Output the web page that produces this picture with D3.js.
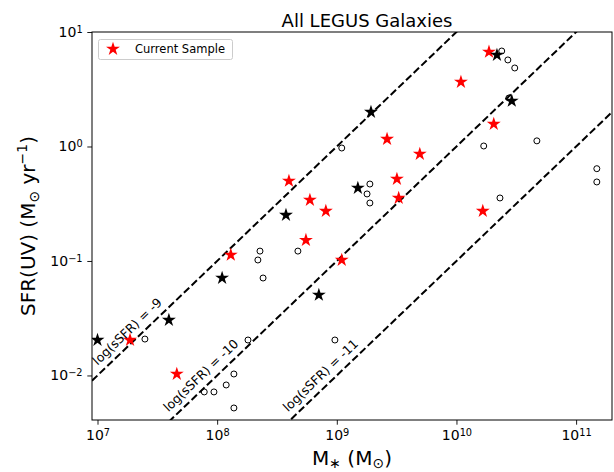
<!DOCTYPE html>
<html>
<head>
<meta charset="utf-8">
<script src="https://cdn.jsdelivr.net/npm/d3@7"></script>
<style>
body{margin:0;background:#fff}
text{font-family:"DejaVu Sans",sans-serif;fill:#000}
</style>
</head>
<body>
<svg id="chart" width="614" height="472"></svg>
<script>
// current sample (red stars)
var redMass = [1.87e10,1.09e10,2.05e10,2.63e9,4.94e9,3.18e9,3.98e8,3.29e9,5.96e8,8.1e8,1.66e10,5.52e8,1.30e8,1.10e9,1.87e7,4.6e7];
var redSfr  = [6.7,3.66,1.57,1.16,0.86,0.52,0.50,0.355,0.341,0.273,0.273,0.152,0.113,0.102,0.0204,0.0103];
// other legus galaxies (black stars)
var blackMass = [1.0e7,3.95e7,1.10e8,3.76e8,7.08e8,1.50e9,1.93e9,2.18e10,2.90e10];
var blackSfr  = [0.0204,0.0305,0.071,0.252,0.0505,0.434,2.0,6.3,2.5];
// open circles
var circleMass = [2.39e10,2.69e10,3.07e10,2.74e10,1.10e9,1.69e10,4.70e10,1.49e11,1.49e11,1.89e9,1.79e9,1.89e9,2.31e10,4.73e8,2.28e8,2.19e8,2.42e8,2.49e7,1.81e8,9.64e8,1.38e8,1.19e8,9.4e7,7.8e7,1.38e8];
var circleSfr  = [6.82,5.7,4.85,2.65,0.97,1.01,1.12,0.64,0.49,0.47,0.385,0.321,0.355,0.122,0.122,0.102,0.071,0.0208,0.0204,0.0204,0.0103,0.00826,0.00718,0.00718,0.0052];
// constant sSFR lines
var ssfrValues = [-9,-10,-11];
var ssfrLabelMass = [1.1e7,4.3e7,4.3e8];
var xTicks = [1e7,1e8,1e9,1e10,1e11];
var yTicks = [1e-2,1e-1,1e0,1e1];

var toPoints = function(mass,sfr){
    return mass.map(function(m,i){ return {m:m, s:sfr[i]} })
}

var svg = d3.select("#chart");
var box = {left:92,right:612,top:32,bottom:420};

var xScale = d3.scaleLog()
    .domain([Math.pow(10,6.954),Math.pow(10,11.30)])
    .range([box.left,box.right]);
var yScale = d3.scaleLog()
    .domain([Math.pow(10,-2.389),10])
    .range([box.bottom,box.top]);

var minorTicks = function(scale){
    var d = scale.domain(), out = [];
    for(var e=Math.floor(Math.log10(d[0])); e<=Math.ceil(Math.log10(d[1])); e++){
        for(var k=2;k<10;k++){
            var v = k*Math.pow(10,e);
            if(v>=d[0] && v<=d[1]) out.push(v);
        }
    }
    return out;
}

var powerLabel = function(sel){
    sel.each(function(d){
        var t = d3.select(this).text("");
        var e = Math.round(Math.log10(d));
        t.append("tspan").text("10");
        t.append("tspan").attr("dy","-0.45em").style("font-size","9.8px")
            .text(e<0 ? "\u2212"+(-e) : e);
    })
}

svg.append("clipPath").attr("id","clip")
    .append("rect")
    .attr("x",box.left).attr("y",box.top)
    .attr("width",box.right-box.left).attr("height",box.bottom-box.top);

// x axis
var gx = svg.append("g").attr("transform","translate(0,"+box.bottom+")");
gx.call(d3.axisBottom(xScale).tickValues(minorTicks(xScale)).tickSize(2.7).tickFormat(""));
gx.call(d3.axisBottom(xScale).tickValues(xTicks).tickSize(4.7).tickPadding(5.5).tickFormat(""));
gx.selectAll(".tick text").style("font-size","14px").call(powerLabel);

var gy = svg.append("g").attr("transform","translate("+box.left+",0)");
gy.call(d3.axisLeft(yScale).tickValues(minorTicks(yScale)).tickSize(2.7).tickFormat(""));
gy.call(d3.axisLeft(yScale).tickValues(yTicks).tickSize(4.7).tickPadding(4.7).tickFormat(""));
gy.selectAll(".tick text").style("font-size","14px").call(powerLabel);

svg.selectAll(".domain").remove();
svg.selectAll(".tick line").attr("stroke","#000").attr("stroke-width",0.9);
svg.selectAll(".tick text").attr("font-family","DejaVu Sans");

// dashed sSFR lines
var plot = svg.append("g").attr("clip-path","url(#clip)");
var xd = xScale.domain();
plot.selectAll(".ssfr")
    .data(ssfrValues)
    .enter()
    .append("line")
    .attr("x1",function(s){ return xScale(xd[0]) })
    .attr("y1",function(s){ return yScale(xd[0]*Math.pow(10,s)) })
    .attr("x2",function(s){ return xScale(xd[1]) })
    .attr("y2",function(s){ return yScale(xd[1]*Math.pow(10,s)) })
    .attr("stroke","#000")
    .attr("stroke-width",2)
    .attr("stroke-dasharray","7.4,3.2");

var angle = Math.atan2(yScale(1e-2)-yScale(1e-1), xScale(1e8)-xScale(1e7))*180/Math.PI;
svg.selectAll(".ssfrLabel")
    .data(ssfrValues)
    .enter()
    .append("text")
    .attr("transform",function(s,i){
        var m = ssfrLabelMass[i];
        return "translate("+xScale(m)+","+yScale(m*Math.pow(10,s))+") rotate("+(-angle)+")";
    })
    .attr("y",-7)
    .style("font-size","12.5px")
    .text(function(s){ return "log(sSFR) = "+s });

var star = d3.symbol().type(d3.symbolStar).size(60);

plot.selectAll(".circle")
    .data(toPoints(circleMass,circleSfr))
    .enter()
    .append("circle")
    .attr("cx",function(p){ return xScale(p.m) })
    .attr("cy",function(p){ return yScale(p.s) })
    .attr("r",3)
    .attr("fill","none")
    .attr("stroke","#000")
    .attr("stroke-width",1);

plot.selectAll(".red")
    .data(toPoints(redMass,redSfr))
    .enter()
    .append("path")
    .attr("d",star)
    .attr("transform",function(p){ return "translate("+xScale(p.m)+","+yScale(p.s)+")" })
    .attr("fill","#ff0000");

plot.selectAll(".black")
    .data(toPoints(blackMass,blackSfr))
    .enter()
    .append("path")
    .attr("d",star)
    .attr("transform",function(p){ return "translate("+xScale(p.m)+","+yScale(p.s)+")" })
    .attr("fill","#000");

// frame
svg.append("rect")
    .attr("x",box.left).attr("y",box.top)
    .attr("width",box.right-box.left).attr("height",box.bottom-box.top)
    .attr("fill","none").attr("stroke","#000").attr("stroke-width",1);

// legend
var lg = svg.append("g");
lg.append("rect")
    .attr("x",98.5).attr("y",39.5).attr("width",134).attr("height",20).attr("rx",2)
    .attr("fill","#fff").attr("fill-opacity",0.8)
    .attr("stroke","#ccc").attr("stroke-width",1);
lg.append("path").attr("d",star).attr("transform","translate(113,49)").attr("fill","#ff0000");
lg.append("text").attr("x",135).attr("y",53).style("font-size","11.5px").text("Current Sample");

// title and axis labels
svg.append("text")
    .attr("x",367).attr("y",27)
    .attr("text-anchor","middle").style("font-size","18px")
    .text("All LEGUS Galaxies");

var xl = svg.append("text")
    .attr("x",(box.left+box.right)/2).attr("y",465)
    .attr("text-anchor","middle").style("font-size","20px");
xl.append("tspan").text("M");
xl.append("tspan").attr("dy","3").style("font-size","14px").text("\u2217");
xl.append("tspan").attr("dy","-3").text(" (M");
xl.append("tspan").attr("dy","3").style("font-size","14px").text("\u2299");
xl.append("tspan").attr("dy","-3").text(")");

var yl = svg.append("text")
    .attr("transform","translate(35,"+((box.top+box.bottom)/2)+") rotate(-90)")
    .attr("text-anchor","middle").style("font-size","20px");
yl.append("tspan").text("SFR(UV) (M");
yl.append("tspan").attr("dy","4").style("font-size","14px").text("\u2299");
yl.append("tspan").attr("dy","-4").text(" yr");
yl.append("tspan").attr("dy","-8").style("font-size","14px").text("\u22121");
yl.append("tspan").attr("dy","8").text(")");
</script>
</body>
</html>
